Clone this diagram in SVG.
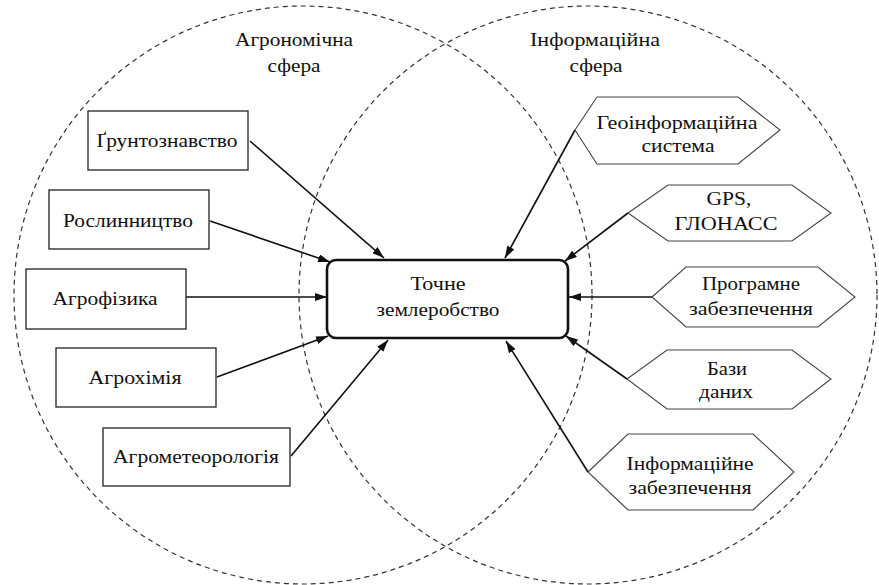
<svg xmlns="http://www.w3.org/2000/svg" width="879" height="585" viewBox="0 0 879 585" font-family="'Liberation Serif','DejaVu Serif',serif">
<style>
text{font-family:"Liberation Serif","DejaVu Serif",serif;font-size:19px;fill:#111;text-anchor:middle}
.sphere{fill:none;stroke:#333;stroke-width:1.2;stroke-dasharray:5 4}
.box{fill:#fff;stroke:#222;stroke-width:1.3}
.hex{fill:#fff;stroke:#444;stroke-width:1.1}
.center{fill:#fff;stroke:#111;stroke-width:2.6}
.arrow{fill:none;stroke:#111;stroke-width:1.6;marker-end:url(#ah)}
</style>
<defs>
<marker id="ah" viewBox="0 0 12 8" refX="12" refY="4" markerWidth="12" markerHeight="8" markerUnits="userSpaceOnUse" orient="auto">
<path d="M0,0 L12,4 L0,8 Z" fill="#111"/>
</marker>
</defs>
<rect width="879" height="585" fill="#fff"/>
<g id="spheres">
<circle class="sphere" cx="303" cy="295" r="289"/>
<circle class="sphere" cx="588" cy="295" r="289"/>
<text x="294" y="46" textLength="118" lengthAdjust="spacingAndGlyphs">Агрономічна</text>
<text x="294" y="72" textLength="53" lengthAdjust="spacingAndGlyphs">сфера</text>
<text x="595" y="46" textLength="130" lengthAdjust="spacingAndGlyphs">Інформаційна</text>
<text x="596" y="72" textLength="53" lengthAdjust="spacingAndGlyphs">сфера</text>
</g>
<g id="connectors">
<line class="arrow" x1="250" y1="141" x2="384" y2="258"/>
<line class="arrow" x1="210" y1="221" x2="330" y2="262"/>
<line class="arrow" x1="186" y1="297" x2="327" y2="297"/>
<line class="arrow" x1="217" y1="377" x2="328" y2="336"/>
<line class="arrow" x1="291" y1="456" x2="388" y2="340"/>
<line class="arrow" x1="575" y1="130" x2="505" y2="258"/>
<line class="arrow" x1="628" y1="213" x2="565" y2="261"/>
<line class="arrow" x1="652" y1="297" x2="569" y2="297"/>
<line class="arrow" x1="627" y1="379" x2="566" y2="336"/>
<line class="arrow" x1="588" y1="472" x2="506" y2="341"/>
</g>
<g id="center-node">
<rect class="center" x="327" y="260" width="241" height="78" rx="9"/>
<text x="438" y="290" textLength="55" lengthAdjust="spacingAndGlyphs">Точне</text>
<text x="438" y="316" textLength="123" lengthAdjust="spacingAndGlyphs">землеробство</text>
</g>
<g id="n-gruntoznavstvo">
<rect class="box" x="88" y="111" width="160" height="59"/>
<text x="167" y="147" textLength="141" lengthAdjust="spacingAndGlyphs">Ґрунтознавство</text>
</g>
<g id="n-roslynnytstvo">
<rect class="box" x="49" y="190" width="160" height="59"/>
<text x="128" y="227" textLength="130" lengthAdjust="spacingAndGlyphs">Рослинництво</text>
</g>
<g id="n-agrofizyka">
<rect class="box" x="26" y="269" width="160" height="60"/>
<text x="105" y="305" textLength="105" lengthAdjust="spacingAndGlyphs">Агрофізика</text>
</g>
<g id="n-agrokhimiia">
<rect class="box" x="56" y="348" width="160" height="59"/>
<text x="135" y="384" textLength="93" lengthAdjust="spacingAndGlyphs">Агрохімія</text>
</g>
<g id="n-agrometeorologiia">
<rect class="box" x="103" y="428" width="187" height="58"/>
<text x="196" y="463" textLength="166" lengthAdjust="spacingAndGlyphs">Агрометеорологія</text>
</g>
<g id="n-gis">
<polygon class="hex" points="575,130 597,97 738,97 780,130 738,164 597,164"/>
<text x="677" y="129" textLength="161" lengthAdjust="spacingAndGlyphs">Геоінформаційна</text>
<text x="678" y="152" textLength="73" lengthAdjust="spacingAndGlyphs">система</text>
</g>
<g id="n-gps">
<polygon class="hex" points="628,213 668,185 792,185 831,213 792,241 668,241"/>
<text x="729" y="205" textLength="45" lengthAdjust="spacingAndGlyphs">GPS,</text>
<text x="726" y="230" textLength="103" lengthAdjust="spacingAndGlyphs">ГЛОНАСС</text>
</g>
<g id="n-software">
<polygon class="hex" points="652,297 686,267 818,267 855,297 818,327 686,327"/>
<text x="751" y="290" textLength="98" lengthAdjust="spacingAndGlyphs">Програмне</text>
<text x="751" y="315" textLength="124" lengthAdjust="spacingAndGlyphs">забезпечення</text>
</g>
<g id="n-databases">
<polygon class="hex" points="627,379 667,350 792,350 831,379 792,409 667,409"/>
<text x="727" y="375" textLength="40" lengthAdjust="spacingAndGlyphs">Бази</text>
<text x="726" y="398" textLength="54" lengthAdjust="spacingAndGlyphs">даних</text>
</g>
<g id="n-infosupport">
<polygon class="hex" points="588,472 628,434 753,434 794,472 753,510 628,510"/>
<text x="690" y="470" textLength="127" lengthAdjust="spacingAndGlyphs">Інформаційне</text>
<text x="690" y="494" textLength="123" lengthAdjust="spacingAndGlyphs">забезпечення</text>
</g>
</svg>
